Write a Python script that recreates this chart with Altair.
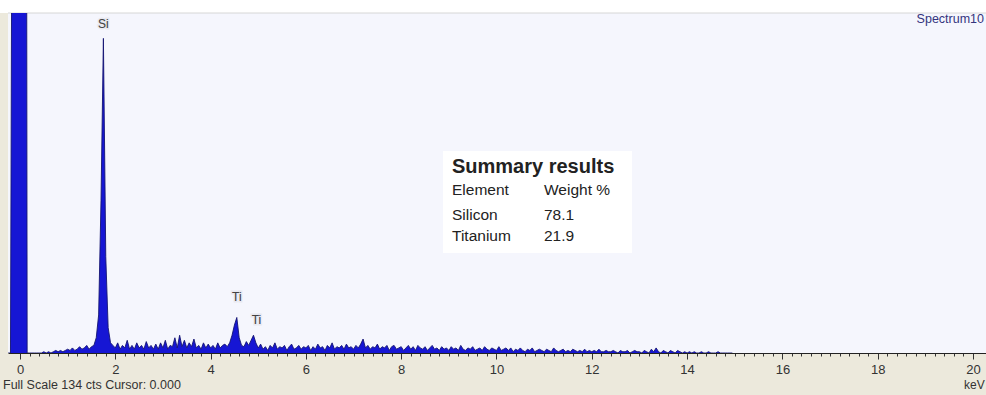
import altair as alt
import pandas as pd

# EDS spectrum: counts per 0.05 keV channel, first channel at -0.25 keV
CHANNEL_START = -0.25
CHANNEL_STEP = 0.05

counts = (
    # -0.25 .. -0.05
    [0, 0, 300, 800, 900]
    # 0.00 .. 0.95
    + [950, 900, 800, 0, 0, 0, 0, 0, 0, 0, 0.5, 0, 0.5, 0, 0.5, 1, 0.5, 1, 0.5, 1]
    # 1.00 .. 1.95  (Si K line)
    + [1.5, 1, 2, 1, 1.5, 2.5, 1.5, 2, 3, 1.5, 2.5, 3, 6, 15, 60, 124, 38, 10, 4, 3]
    # 2.00 .. 2.95
    + [2, 4, 1.5, 3, 2, 5, 1.5, 3, 1.5, 4, 2, 3, 1.5, 4.5, 2, 3, 1.5, 3.5, 1.5, 4]
    # 3.00 .. 3.95
    + [2, 5, 1.5, 3, 2.5, 6, 2, 7, 2.5, 5, 2, 4, 2.5, 5.5, 2, 3, 1.5, 4, 2, 3.5]
    # 4.00 .. 4.95  (Ti K-alpha, Ti K-beta)
    + [2, 3, 1.5, 4, 2, 3, 3.5, 2.5, 4, 7, 11, 14, 6, 3, 2.5, 4.5, 3, 5, 7, 4]
    # 5.00 .. 5.95
    + [2, 3.5, 1.5, 2.5, 1, 3, 2, 4, 1.5, 2.5, 2, 3, 1, 2.5, 3.5, 1.5, 2, 3, 1.5, 2.5]
    # 6.00 .. 6.95
    + [2, 3, 1, 2.5, 1.5, 3.5, 2, 2.5, 1, 3, 2, 4, 1.5, 2.5, 2, 3, 1.5, 3.5, 2, 2.5]
    # 7.00 .. 7.95
    + [1.5, 3, 2, 3.5, 5.5, 2, 3, 1.5, 2.5, 2, 3.5, 1.5, 2.5, 2, 3, 1, 2.5, 3, 1.5, 2]
    # 8.00 .. 8.95
    + [2.5, 1, 2, 3, 1.5, 2.5, 1, 3, 2, 1.5, 2.5, 1, 2, 3, 1.5, 2, 1, 2.5, 1.5, 2]
    # 9.00 .. 9.95
    + [1, 2.5, 1.5, 2, 1, 3, 1.5, 1, 2, 1.5, 2.5, 1, 1.5, 2, 1, 2.5, 1.5, 1, 2, 1.5]
    # 10.00 .. 10.95
    + [1, 2.5, 1, 1.5, 2, 1, 2, 0.5, 1.5, 1, 2, 1, 0.5, 1.5, 1, 2, 0.5, 1, 1.5, 1]
    # 11.00 .. 11.95
    + [0.5, 1.5, 1, 0.5, 2, 1, 0.5, 1, 1.5, 0.5, 1, 0.5, 1.5, 1, 0.5, 1, 0.5, 1.5, 0.5, 1]
    # 12.00 .. 12.95
    + [0.5, 1, 0.5, 1.5, 0.5, 0.5, 1, 0.5, 0.5, 1, 0.5, 0, 1, 0.5, 0.5, 1, 0, 0.5, 1, 0.5]
    # 13.00 .. 13.95
    + [0.5, 0, 1, 0.5, 0, 1.5, 0.5, 2, 0.5, 0, 1, 0.5, 0, 1, 0.5, 0, 1, 0.5, 0, 0.5]
    # 14.00 .. 14.95
    + [0, 0.5, 0, 0.5, 0, 0, 0.5, 0, 0, 0.5, 0, 0, 0, 0.5, 0, 0, 0, 0, 0, 0]
)
energy = [round(CHANNEL_START + CHANNEL_STEP * i, 3) for i in range(len(counts))]

# Peak identifications
peak_names = ["Si", "Ti", "Ti"]
peak_energy = [1.75, 4.55, 4.90]
peak_counts = [124, 14, 7]

# Quantification table
elements = ["Silicon", "Titanium"]
weights = [78.1, 21.9]

FULL_SCALE = 134
X_DOMAIN = [-0.252, 20.273]
all_ticks = [round(i * 0.2, 1) for i in range(101)]

FONT = "Liberation Sans"
W, H = 978, 340

spec = pd.DataFrame({"energy": energy, "counts": counts})
peaks = pd.DataFrame({"name": peak_names, "energy": peak_energy, "counts": peak_counts})

is_major = "abs(datum.value - round(datum.value / 2) * 2) < 0.01"

x_enc = alt.X(
    "energy:Q",
    title=None,
    scale=alt.Scale(domain=X_DOMAIN, nice=False, zero=False),
    axis=alt.Axis(
        values=all_ticks,
        labelExpr=f"{is_major} ? format(datum.value, 'd') : ''",
        tickSize={"condition": {"test": is_major, "value": 6}, "value": 3},
        tickColor="#333333",
        domainColor="#222222",
        domainWidth=1.2,
        labelColor="#333333",
        labelFont=FONT,
        labelFontSize=13,
        labelPadding=4,
        labelFlush=False,
        labelOverlap=False,
        grid=False,
    ),
)
y_enc = alt.Y(
    "counts:Q",
    title=None,
    scale=alt.Scale(domain=[0, FULL_SCALE], nice=False, zero=True),
    axis=None,
)

base = alt.Chart(spec)
area = base.mark_area(color="#1616d4", clip=True, interpolate="linear").encode(x=x_enc, y=y_enc)
edge = base.mark_line(color="#141472", strokeWidth=0.9, clip=True).encode(x=x_enc, y=y_enc)

one = pd.DataFrame({"k": [0]})

# white header strip and the frame line along the top of the plot
header = alt.Chart(one).mark_rect(color="white").encode(
    x=alt.value(-8), x2=alt.value(W), y=alt.value(-13), y2=alt.value(0)
)
top_line = alt.Chart(one).mark_rule(color="#d6d6d6", strokeWidth=1).encode(
    x=alt.value(0), x2=alt.value(W), y=alt.value(0)
)

spectrum_name = alt.Chart(one).mark_text(
    text="Spectrum10", font=FONT, fontSize=12.5, color="#34347e", align="right", baseline="alphabetic"
).encode(x=alt.value(976), y=alt.value(10))

# peak labels with a soft halo
label_style = dict(font=FONT, fontSize=12, color="#444444", baseline="bottom", align="center")
halo_style = dict(stroke="#e6e6ee", strokeWidth=3, strokeOpacity=0.8)
label_layers = []
for idx, dx, dy in [(0, 0, -7), (1, 0, -13), (2, 3, -8)]:
    sub = alt.Chart(peaks.iloc[[idx]])
    label_layers.append(
        sub.mark_text(dx=dx, dy=dy, **halo_style, **label_style).encode(x=x_enc, y=y_enc, text="name:N")
    )
    label_layers.append(
        sub.mark_text(dx=dx, dy=dy, **label_style).encode(x=x_enc, y=y_enc, text="name:N")
    )

# summary results panel
box = alt.Chart(one).mark_rect(color="white").encode(
    x=alt.value(435), x2=alt.value(624), y=alt.value(138), y2=alt.value(240)
)
txt = dict(font=FONT, color="#222222", align="left", baseline="alphabetic")
title_txt = alt.Chart(one).mark_text(text="Summary results", fontSize=20, fontWeight="bold", **txt).encode(
    x=alt.value(444), y=alt.value(160)
)
head_el = alt.Chart(one).mark_text(text="Element", fontSize=15.5, **txt).encode(x=alt.value(444), y=alt.value(182))
head_wt = alt.Chart(one).mark_text(text="Weight %", fontSize=15.5, **txt).encode(x=alt.value(536), y=alt.value(182))

rows = []
for i, (el, wt) in enumerate(zip(elements, weights)):
    row_y = 207 + 21 * i
    rows.append(alt.Chart(one).mark_text(text=el, fontSize=15.5, **txt).encode(x=alt.value(444), y=alt.value(row_y)))
    rows.append(alt.Chart(one).mark_text(text=f"{wt:.1f}", fontSize=15.5, **txt).encode(x=alt.value(536), y=alt.value(row_y)))

footer = alt.Chart(one).mark_text(
    text=f"Full Scale {FULL_SCALE} cts Cursor: 0.000", font=FONT, fontSize=12.5, color="#333333",
    align="left", baseline="alphabetic"
).encode(x=alt.value(-5), y=alt.value(376))
unit = alt.Chart(one).mark_text(
    text="keV", font=FONT, fontSize=12, color="#333333", align="left", baseline="alphabetic"
).encode(x=alt.value(956), y=alt.value(376))

chart = alt.layer(
    header, top_line, area, edge,
    *label_layers,
    box, title_txt, head_el, head_wt, *rows,
    spectrum_name, footer, unit,
).properties(
    width=W, height=H,
    autosize=alt.AutoSizeParams(type="none"),
    padding={"left": 8, "top": 13, "right": 0, "bottom": 42},
    background="#ECE9DC",
).configure_view(
    fill="#F5F6FD", stroke=None
)

chart.save("out.html", embed_options={"renderer": "svg", "actions": False})
